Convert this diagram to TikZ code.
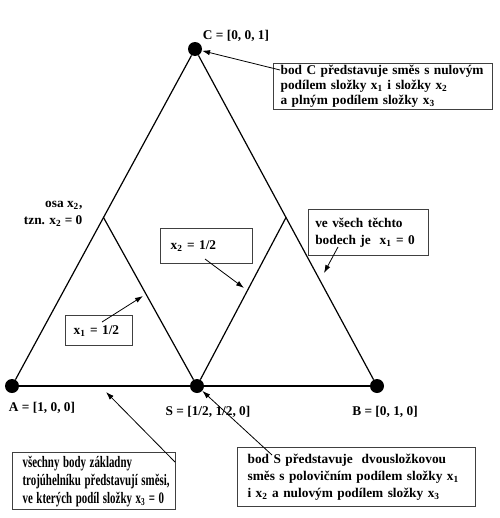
\documentclass[tikz,border=0pt]{standalone}
\usepackage{fontspec}
\usepackage{graphicx}
\setmainfont{Liberation Serif}
\usetikzlibrary{calc,arrows.meta}
\newcommand*{\xs}[1]{x\textsubscript{#1}}
\newcommand*{\slim}[1]{\scalebox{0.68}[1]{#1}}

\begin{document}
\begin{tikzpicture}
[
    x = 0.75pt, y = -0.75pt,
    every node/.style={font = \bfseries\fontsize{10}{12.75}\selectfont},
    vertex/.style={circle, fill = black, minimum size = 10.5pt, inner sep = 0pt},
    side/.style={draw = black, line width = 0.9pt},
    tag/.style={inner sep = 1pt},
    note/.style={draw = black!75, line width = 0.9pt, anchor = north west, align = left, inner xsep = 7.5pt, inner ysep = 0pt},
    arrow/.style={draw, -{Latex[length = 6pt, width = 4pt]}, line width = 0.6pt},
]
\useasboundingbox (0,0) rectangle (500,518);

% Vertices of the triangle and the point S
\node[vertex] (A) at (12,386) {};
\node[vertex] (S) at (197,386) {};
\node[vertex] (B) at (377,386) {};
\node[vertex] (C) at (195,49) {};
\coordinate (mAC) at ($(A)!0.5!(C)$);
\coordinate (mCB) at ($(C)!0.5!(B)$);

% Sides and the two half lines
\draw[side] (A) -- (S) -- (B);
\draw[side] (A) -- (C) -- (B);
\draw[side] (mAC) -- (S) -- (mCB);

% Vertex labels
\node[tag] (labC) at (236,36) {C = [0, 0, 1]};
\node[tag] (labA) at (42,408) {A = [1, 0, 0]};
\node[tag] (labS) at (208,412) {S = [1/2, 1/2, 0]};
\node[tag] (labB) at (385,412) {B = [0, 1, 0]};
\node[tag, anchor = east, align = right] (osa) at (84,214) {osa \xs{2},\\ tzn. \xs{2} = 0};

% Notes
\node[note, inner xsep = 5.25pt, text width = 153.75pt, minimum height = 34.5pt,
      font = \bfseries\fontsize{10}{11.25}\selectfont] (noteC) at (273,63)
    {bod C představuje směs s nulovým\\ podílem složky \xs{1} i složky \xs{2}\\ a plným podílem složky \xs{3}};
\node[note, text width = 54pt, minimum height = 26.25pt] (noteX2) at (160,228) {\xs{2} = 1/2};
\node[note, inner xsep = 5pt, text width = 80pt, minimum height = 34.5pt] (noteAll) at (308,209)
    {ve všech těchto\\ bodech je\ \ \xs{1} = 0};
\node[note, inner xsep = 6pt, text width = 38.25pt, minimum height = 22.5pt] (noteX1) at (65,315) {\xs{1} = 1/2};
\node[note, text width = 107.25pt, minimum height = 42.75pt,
      font = \bfseries\fontsize{12}{13.5}\selectfont] (noteBase) at (12,452)
    {\slim{všechny body základny}\\ \slim{trojúhelníku představují směsi,}\\ \slim{ve kterých podíl složky \xs{3} = 0}};
\node[note, text width = 163.5pt, minimum height = 44.25pt] (noteS) at (237,447)
    {bod S představuje\ \ dvousložkovou\\ směs s polovičním podílem složky \xs{1}\\ i \xs{2} a nulovým podílem složky \xs{3}};

% Arrow tails and heads
\coordinate (tC) at (280,70);
\coordinate (tX2) at (205,259);
\coordinate (hX2) at (244,288);
\coordinate (tAll) at (338,247);
\coordinate (hAll) at (324,273);
\coordinate (tX1) at (102,322);
\coordinate (hX1) at (143,296);
\coordinate (tBase) at (175,462);
\coordinate (hBase) at (106,392);
\coordinate (tS) at (272,455);

\draw[arrow] (tC) -- (C);
\draw[arrow] (tX2) -- (hX2);
\draw[arrow] (tAll) -- (hAll);
\draw[arrow] (tX1) -- (hX1);
\draw[arrow] (tBase) -- (hBase);
\draw[arrow] (tS) -- (S);
\end{tikzpicture}
\end{document}
